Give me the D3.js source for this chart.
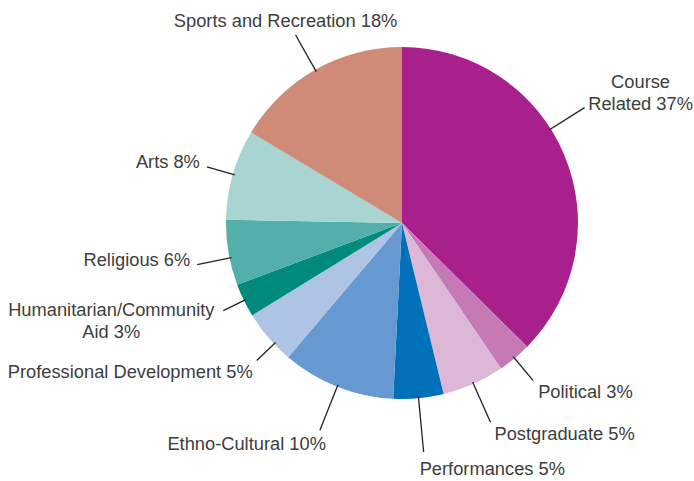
<!DOCTYPE html>
<html>
<head>
<meta charset="utf-8">
<script src="https://cdn.jsdelivr.net/npm/d3@7"></script>
<style>
  body { margin: 0; background: #fff; }
  text { font-family: "Liberation Sans", Arial, sans-serif; font-size: 18.3px; fill: #3d3d3d; }
</style>
</head>
<body>
<div id="app"></div>
<script>
const w = 694;
const h = 481;

// slices, clockwise from 12 o'clock
const categories = ["Course Related", "Political", "Postgraduate", "Performances", "Ethno-Cultural",
  "Professional Development", "Humanitarian/Community Aid", "Religious", "Arts", "Sports and Recreation"];

// share of the circle as drawn
const shares = [37.4, 3.1, 5.7, 4.6, 10.4, 5.0, 3.1, 6.0, 8.3, 16.4];

// percentages printed in the labels
const printed = [37, 3, 5, 5, 10, 5, 3, 6, 8, 18];

const palette = ["#a8208c", "#c57ab5", "#ddb7d6", "#0071b9", "#6699d1",
  "#aec4e4", "#008a7b", "#52afaa", "#a8d4d2", "#cf8b78"];

// leader line + text placement, per label
const labelLayout = [
  { angle: 57.7, len: 40, anchor: "middle", dx: 56, dy: -20, split: 1 },
  { len: 29, anchor: "start", dx: 5, dy: 17 },
  { len: 42, anchor: "start", dx: 4, dy: 18 },
  { len: 54, anchor: "start", dx: -4, dy: 23 },
  { len: 47, anchor: "end", dx: 6, dy: 20 },
  { angle: 226.6, len: 24, anchor: "end", dx: -4, dy: 18 },
  { len: 23, anchor: "middle", dx: -112, dy: 5, split: 1 },
  { angle: 258.5, len: 33, anchor: "end", dx: -7, dy: 1 },
  { len: 27, anchor: "end", dx: -7, dy: 1 },
  { len: 40, anchor: "middle", dx: -10, dy: -8 }
];

const cx = 402, cy = 223, radius = 176;

const svg = d3.select('#app')
  .append('svg')
  .attr('width', w)
  .attr('height', h);

const g = svg.append('g')
  .attr('transform', `translate(${cx},${cy})`);

const pie = d3.pie().sort(null).value((d) => d.share);
const arc = d3.arc().innerRadius(0).outerRadius(radius);

const data = categories.map((c, i) => ({ name: c, share: shares[i], pct: printed[i], color: palette[i], layout: labelLayout[i] }));
const arcs = pie(data);

//////////SLICES//////////

g.selectAll('path')
  .data(arcs)
  .join('path')
  .attr('d', arc)
  .attr('fill', (d) => d.data.color);

//////////LABELS//////////

const polar = (a, r) => [Math.sin(a) * r, -Math.cos(a) * r];

const labels = g.selectAll('g.label')
  .data(arcs)
  .join('g')
  .attr('class', 'label');

labels.each(function (d) {
  const L = d.data.layout;
  const a = L.angle != null ? L.angle * Math.PI / 180 : (d.startAngle + d.endAngle) / 2;
  const p0 = polar(a, radius - 2);
  const p1 = polar(a, radius + L.len);
  const sel = d3.select(this);

  sel.append('line')
    .attr('x1', p0[0]).attr('y1', p0[1])
    .attr('x2', p1[0]).attr('y2', p1[1])
    .attr('stroke', '#222')
    .attr('stroke-width', 1.3);

  const words = (d.data.name + ' ' + d.data.pct + '%').split(' ');
  const lines = L.split ? [words.slice(0, L.split).join(' '), words.slice(L.split).join(' ')] : [words.join(' ')];

  const t = sel.append('text')
    .attr('text-anchor', L.anchor)
    .attr('x', p1[0] + L.dx)
    .attr('y', p1[1] + L.dy);

  lines.forEach((s, i) => {
    t.append('tspan')
      .attr('x', p1[0] + L.dx)
      .attr('dy', i ? 22 : 0)
      .text(s);
  });
});
</script>
</body>
</html>
